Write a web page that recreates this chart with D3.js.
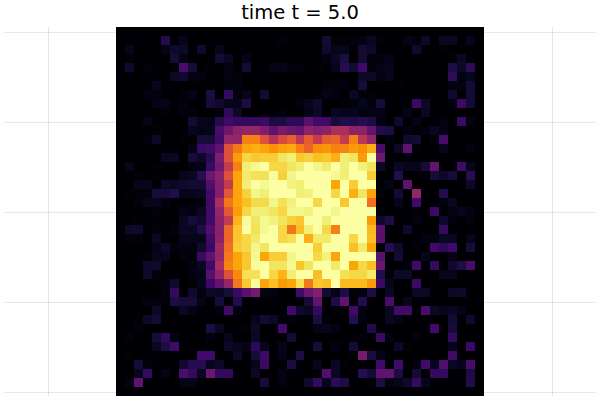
<!DOCTYPE html>
<html>
<head>
<meta charset="utf-8">
<script src="https://cdn.jsdelivr.net/npm/d3@7"></script>
<style>
  html, body { margin: 0; padding: 0; background: #fff; }
  svg { display: block; }
</style>
</head>
<body>
<svg width="600" height="400"></svg>
<script>
// values, in percent of the colour range, one row per y step
const heat = [
  [0,0,0,0,0, 0,0,0,0,0, 0,0,0,0,0, 0,0,0,0,0, 0,0,0,0,0, 0,0,0,0,0, 0,0,0,0,0, 0,0,0,0,0, 0],
  [0,0,0,0,0, 13,0,5,0,0, 0,0,0,0,0, 0,0,0,2,0, 0,0,0,9,1, 1,3,3,6,1, 0,0,4,2,7, 0,6,6,0,5, 0],
  [0,5,0,0,0, 4,8,7,0,8, 0,5,0,0,0, 0,0,0,0,0, 0,0,0,8,5, 5,0,9,7,0, 0,0,0,8,1, 0,1,0,0,0, 0],
  [0,1,0,0,0, 0,10,4,0,0, 0,9,6,0,4, 0,0,0,0,0, 0,0,0,3,6, 11,0,9,2,2, 4,0,0,0,0, 0,0,1,6,0, 0],
  [0,8,0,2,0, 0,1,22,10,0, 1,0,3,0,9, 0,0,4,4,2, 2,0,1,0,5, 14,9,20,2,4, 5,0,0,0,0, 0,0,12,7,15, 0],
  [0,0,0,0,0, 0,7,8,3,3, 0,0,3,2,0, 0,0,0,0,0, 0,0,0,0,0, 0,0,7,7,3, 5,0,0,0,0, 0,0,16,3,5, 0],
  [0,0,0,0,5, 0,0,0,0,0, 1,0,2,2,0, 0,0,0,0,0, 0,0,0,2,2, 2,0,10,0,0, 0,1,0,0,0, 0,0,3,3,9, 0],
  [0,0,0,3,3, 0,0,1,4,0, 11,0,17,2,5, 0,9,0,0,0, 0,0,1,4,2, 0,6,2,1,0, 0,0,0,0,0, 0,0,8,0,9, 0],
  [0,0,0,0,4, 4,0,3,0,0, 10,8,5,5,12, 0,0,0,0,0, 3,5,8,0,0, 1,2,5,2,10, 0,0,1,18,7, 0,0,3,19,9, 0],
  [0,0,0,0,0, 1,0,2,2,0, 0,2,16,7,0, 0,0,0,2,0, 0,4,7,0,6, 5,5,3,4,4, 0,0,4,0,6, 0,0,0,0,0, 0],
  [0,0,0,4,0, 0,0,0,9,5, 4,13,20,17,17, 17,19,11,11,16, 16,26,20,20,10, 13,11,14,11,3, 0,8,0,4,0, 0,3,0,18,3, 0],
  [0,0,0,0,1, 0,0,0,5,4, 5,22,30,38,40, 40,35,27,33,30, 28,38,36,38,46, 46,38,38,28,13, 11,0,3,0,3, 6,3,0,0,0, 0],
  [0,0,0,2,7, 0,0,1,1,10, 10,20,41,40,72, 72,60,48,58,64, 50,63,52,64,65, 52,72,50,40,0, 2,0,8,9,0, 2,22,0,0,0, 0],
  [0,0,0,0,0, 0,0,0,4,18, 20,27,60,70,80, 82,80,76,79,81, 72,65,75,77,72, 73,78,75,82,22, 0,7,27,2,0, 0,5,0,0,3, 0],
  [0,0,0,0,0, 6,6,0,10,7, 14,35,60,78,90, 87,88,88,93,95, 87,89,85,87,82, 95,93,78,100,30, 0,0,2,0,0, 0,0,0,0,0, 0],
  [0,5,0,0,1, 0,0,0,3,4, 18,32,52,72,95, 98,100,90,90,93, 95,100,97,94,100, 95,100,96,93,7, 0,6,5,5,10, 28,0,0,20,5, 0],
  [0,0,1,0,1, 0,0,5,6,14, 30,38,60,80,94, 92,92,99,89,97, 100,100,100,100,98, 95,100,100,88,0, 0,13,0,0,0, 10,7,10,0,14, 0],
  [0,0,5,5,0, 7,6,8,9,9, 24,36,52,80,95, 100,98,100,100,96, 95,100,100,100,80, 100,88,100,100,0, 4,0,27,0,0, 0,0,0,0,7, 0],
  [0,1,2,2,10, 10,13,5,5,6, 20,36,62,80,89, 97,95,100,100,100, 95,96,100,100,90, 100,82,93,79,2, 0,9,0,40,0, 0,13,0,0,0, 0],
  [0,0,2,5,5, 2,0,0,1,3, 20,45,70,80,85, 91,91,97,92,96, 100,100,90,100,100, 87,100,100,68,0, 0,5,0,20,0, 0,3,6,0,0, 0],
  [0,0,0,0,2, 0,0,4,3,6, 20,40,62,78,90, 95,95,93,90,97, 97,96,100,100,97, 100,100,100,100,2, 0,0,0,1,0, 18,0,3,5,3, 0],
  [0,0,1,0,1, 0,0,6,10,8, 20,38,52,83,99, 93,98,96,93,89, 87,100,100,95,100, 100,100,100,78,8, 12,0,0,3,0, 0,8,2,0,2, 0],
  [0,7,8,0,2, 0,2,6,6,12, 24,37,66,86,100, 92,98,100,90,70, 85,95,100,90,72, 100,100,100,84,26, 0,0,8,0,0, 0,17,0,0,0, 0],
  [0,2,2,0,6, 0,0,5,5,5, 20,38,66,87,90, 94,100,100,90,92, 100,82,94,94,100, 100,90,100,85,26, 0,0,0,0,3, 3,6,6,0,5, 0],
  [0,0,0,0,4, 7,2,3,3,8, 18,42,68,88,90, 97,93,100,100,100, 100,100,88,100,100, 100,85,94,80,0, 14,8,0,1,0, 20,15,20,0,10, 0],
  [0,0,0,1,5, 5,0,3,1,18, 27,40,70,80,87, 98,80,88,88,97, 100,100,90,96,80, 100,100,100,100,26, 0,9,0,0,5, 0,0,4,0,0, 0],
  [0,0,0,8,8, 0,0,0,3,6, 20,45,73,80,87, 99,100,93,93,98, 86,93,100,100,94, 100,80,90,85,30, 0,0,2,20,0, 17,0,8,12,22, 0],
  [0,0,0,8,2, 0,0,0,3,4, 26,40,60,74,92, 92,100,90,83,95, 100,100,85,100,100, 92,90,90,94,13, 2,7,7,0,0, 0,5,5,0,0, 0],
  [0,0,0,0,1, 2,8,0,1,5, 19,28,40,70,87, 99,80,85,78,80, 92,70,87,85,100, 84,84,84,78,18, 5,0,0,18,0, 0,0,0,0,0, 0],
  [0,0,0,0,0, 2,17,0,8,2, 7,6,10,18,26, 32,3,3,0,0, 20,30,36,9,4, 12,1,2,12,0, 6,0,0,7,7, 0,0,7,8,0, 0],
  [0,0,0,3,3, 1,12,10,10,4, 0,10,0,13,0, 0,0,0,0,0, 1,10,28,0,12, 27,0,13,0,0, 22,0,5,0,0, 0,0,0,0,0, 0],
  [0,0,0,0,7, 0,0,6,4,0, 0,3,20,3,0, 0,0,0,0,20, 8,6,17,0,1, 0,20,3,0,0, 6,20,20,0,22, 7,5,6,4,0, 0],
  [0,0,1,7,9, 0,0,0,0,0, 0,0,0,0,0, 5,9,7,2,2, 0,0,11,2,0, 0,14,2,0,0, 6,4,0,0,0, 0,0,9,0,8, 0],
  [0,0,2,0,0, 0,0,0,0,0, 11,6,0,0,1, 7,0,0,21,0, 0,0,4,5,3, 0,0,0,12,0, 0,0,0,0,0, 20,0,10,0,0, 0],
  [0,2,0,0,10, 16,3,0,0,0, 2,0,5,0,0, 6,0,0,0,9, 0,0,0,0,0, 0,0,2,0,18, 3,0,0,3,0, 0,0,17,0,0, 0],
  [0,0,0,0,6, 12,20,0,0,0, 0,0,7,5,4, 15,5,0,5,0, 0,0,10,0,3, 0,9,0,0,0, 0,7,1,0,0, 0,0,5,0,18, 0],
  [0,1,0,0,0, 0,0,0,0,20, 20,0,0,7,0, 10,19,0,4,0, 12,0,0,0,0, 0,1,33,11,4, 0,0,0,0,0, 0,0,20,0,0, 0],
  [0,0,10,2,0, 0,0,8,14,14, 5,7,0,0,0, 5,18,0,0,11, 0,0,5,0,6, 1,0,0,0,20, 0,20,0,3,20, 5,24,6,5,22, 0],
  [0,0,5,17,0, 4,0,22,17,6, 30,17,17,0,0, 7,0,0,4,0, 0,0,1,24,6, 0,0,14,9,27, 27,12,0,9,0, 17,17,0,0,12, 0],
  [0,3,27,0,0, 0,0,4,4,0, 0,0,0,0,0, 0,10,0,3,0, 0,8,17,5,15, 12,0,0,1,11, 3,5,8,17,5, 0,0,0,0,13, 0],
  [0,0,0,0,0, 0,0,0,0,0, 0,0,0,0,0, 0,0,0,0,0, 0,0,0,0,0, 0,0,0,0,0, 0,0,0,0,0, 0,0,0,0,0, 0]
];
const xCenters = d3.range(41).map(i => (i - 20) / 10);
const yCenters = d3.range(41).map(i => (20 - i) / 10);
const xTicks = [-2.8, 2.8];
const yTicks = [-2, -1, 0, 1, 2];
const titleText = 'time t = 5.0';

const step = 0.1;
const x = d3.scaleLinear().domain([-3.289, 3.289]).range([4, 596]);
const y = d3.scaleLinear().domain([-2.05, 2.05]).range([396.4, 27.4]);
const color = d3.scaleSequential(d3.interpolateInferno).domain([0, 100]);

const svg = d3.select('svg');

// light grid, no labels on this plot
svg.append('g')
  .attr('class', 'grid')
  .attr('transform', 'translate(0,396)')
  .call(d3.axisBottom(x).tickValues(xTicks).tickSize(-369).tickFormat(''));
svg.append('g')
  .attr('class', 'grid')
  .attr('transform', 'translate(4,0)')
  .call(d3.axisLeft(y).tickValues(yTicks).tickSize(-592).tickFormat(''));
svg.selectAll('.grid .domain').remove();
svg.selectAll('.grid line')
  .attr('stroke', '#000')
  .attr('stroke-opacity', 0.1)
  .attr('stroke-width', 1);

const rows = svg.append('g')
  .attr('shape-rendering', 'crispEdges')
  .selectAll('g')
  .data(heat)
  .enter().append('g');

rows.selectAll('rect')
  .data((row, i) => row.map((v, j) => ({ v: v, cx: xCenters[j], cy: yCenters[i] })))
  .enter().append('rect')
  .attr('x', d => x(d.cx - step / 2))
  .attr('y', d => y(d.cy + step / 2))
  .attr('width', d => x(d.cx + step / 2) - x(d.cx - step / 2))
  .attr('height', d => y(d.cy - step / 2) - y(d.cy + step / 2))
  .attr('fill', d => color(d.v));

svg.append('text')
  .attr('x', x(0))
  .attr('y', 19)
  .attr('text-anchor', 'middle')
  .style('font-family', '"DejaVu Sans", sans-serif')
  .style('font-size', '19.5px')
  .style('fill', '#000')
  .text(titleText);
</script>
</body>
</html>
